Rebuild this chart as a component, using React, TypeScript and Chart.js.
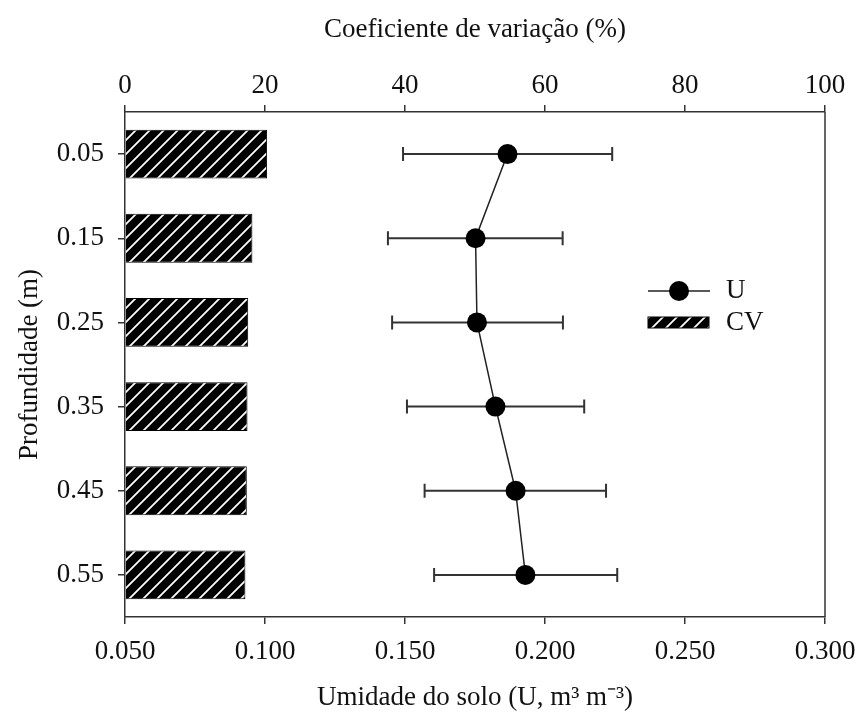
import React, { useEffect, useRef } from 'react';
import { Chart, registerables } from 'chart.js';

Chart.register(...registerables);

// ---- Data ----
const depthLabels = ['0.05', '0.15', '0.25', '0.35', '0.45', '0.55'];
const cvValues = [20.3, 18.2, 17.6, 17.5, 17.4, 17.2];
const uValues = [0.1866, 0.1752, 0.1757, 0.1823, 0.1895, 0.193];
const uLower = [0.1493, 0.1439, 0.1454, 0.1507, 0.157, 0.1604];
const uUpper = [0.224, 0.2063, 0.2064, 0.214, 0.2218, 0.2258];
const uTicks = [0.05, 0.1, 0.15, 0.2, 0.25, 0.3];
const cvTicks = [0, 20, 40, 60, 80, 100];

const FONT_FAMILY = '"Liberation Serif", "Times New Roman", serif';
const FONT_SIZE = 27;
const AXIS_COLOR = '#333';
const TEXT_COLOR = '#111';

function makeHatch(): CanvasPattern | string {
  const s = 14;
  const c = document.createElement('canvas');
  c.width = s;
  c.height = s;
  const g = c.getContext('2d');
  if (!g) return '#000';
  g.fillStyle = '#000';
  g.fillRect(0, 0, s, s);
  g.strokeStyle = '#fff';
  g.lineWidth = 1.8;
  g.beginPath();
  g.moveTo(-3, 3);
  g.lineTo(3, -3);
  g.moveTo(0, s);
  g.lineTo(s, 0);
  g.moveTo(s - 3, s + 3);
  g.lineTo(s + 3, s - 3);
  g.stroke();
  return g.createPattern(c, 'repeat') || '#000';
}

export default function App() {
  const canvasRef = useRef<HTMLCanvasElement | null>(null);

  useEffect(() => {
    document.body.style.margin = '0';
    const canvas = canvasRef.current;
    if (!canvas) return;
    const hatch = makeHatch();

    const font = { family: FONT_FAMILY, size: FONT_SIZE };

    const errorBars = {
      id: 'errorBars',
      beforeDatasetsDraw(chart: any) {
        const { ctx } = chart;
        const xs = chart.scales.x;
        const ys = chart.scales.y;
        ctx.save();
        ctx.strokeStyle = '#333';
        ctx.lineWidth = 2;
        for (let i = 0; i < uValues.length; i++) {
          const y = ys.getPixelForValue(i);
          const x1 = xs.getPixelForValue(uLower[i]);
          const x2 = xs.getPixelForValue(uUpper[i]);
          ctx.beginPath();
          ctx.moveTo(x1, y);
          ctx.lineTo(x2, y);
          ctx.moveTo(x1, y - 7);
          ctx.lineTo(x1, y + 7);
          ctx.moveTo(x2, y - 7);
          ctx.lineTo(x2, y + 7);
          ctx.stroke();
        }
        ctx.restore();
      },
    };

    const frameAndLegend = {
      id: 'frameAndLegend',
      afterDraw(chart: any) {
        const { ctx, chartArea } = chart;
        ctx.save();
        // right border
        ctx.strokeStyle = AXIS_COLOR;
        ctx.lineWidth = 1.5;
        ctx.beginPath();
        ctx.moveTo(chartArea.right, chartArea.top);
        ctx.lineTo(chartArea.right, chartArea.bottom);
        ctx.stroke();

        // legend: U
        const ly = 291;
        ctx.strokeStyle = '#222';
        ctx.lineWidth = 1.5;
        ctx.beginPath();
        ctx.moveTo(648, ly);
        ctx.lineTo(710, ly);
        ctx.stroke();
        ctx.fillStyle = '#000';
        ctx.beginPath();
        ctx.arc(679, ly, 10, 0, Math.PI * 2);
        ctx.fill();

        // legend: CV
        ctx.fillStyle = hatch as any;
        ctx.fillRect(648, 317, 61, 11);
        ctx.strokeStyle = '#000';
        ctx.lineWidth = 1;
        ctx.strokeRect(648, 317, 61, 11);

        ctx.fillStyle = TEXT_COLOR;
        ctx.font = `${FONT_SIZE}px ${FONT_FAMILY}`;
        ctx.textAlign = 'left';
        ctx.textBaseline = 'middle';
        ctx.fillText('U', 726, ly);
        ctx.fillText('CV', 726, 323);
        ctx.restore();
      },
    };

    const chart = new Chart(canvas, {
      type: 'bar',
      data: {
        labels: depthLabels,
        datasets: [
          {
            type: 'bar',
            label: 'CV',
            data: cvValues,
            xAxisID: 'x2',
            yAxisID: 'y',
            backgroundColor: hatch as any,
            borderColor: '#000',
            borderWidth: 1,
            barPercentage: 0.58,
            categoryPercentage: 1,
            grouped: false,
            order: 1,
          } as any,
          {
            type: 'line',
            label: 'U',
            data: uValues,
            indexAxis: 'y',
            xAxisID: 'x',
            yAxisID: 'y',
            borderColor: '#222',
            borderWidth: 1.5,
            pointRadius: 10,
            pointBackgroundColor: '#000',
            pointBorderColor: '#000',
            pointBorderWidth: 0,
            fill: false,
            tension: 0,
            order: 0,
          } as any,
        ],
      },
      options: {
        indexAxis: 'y',
        responsive: false,
        animation: false,
        layout: { padding: { left: 0, right: 33, top: 0, bottom: 0 } },
        plugins: {
          legend: { display: false },
          tooltip: { enabled: false },
          title: { display: false },
        },
        scales: {
          x: {
            type: 'linear',
            position: 'bottom',
            min: 0.05,
            max: 0.3,
            afterBuildTicks: (s: any) => {
              s.ticks = uTicks.map((v) => ({ value: v }));
            },
            afterFit: (s: any) => {
              s.height = 101;
              s.paddingLeft = 0;
              s.paddingRight = 0;
            },
            ticks: {
              callback: (v: any) => Number(v).toFixed(3),
              font,
              color: TEXT_COLOR,
              padding: 12,
              maxRotation: 0,
            },
            grid: {
              drawOnChartArea: false,
              drawTicks: true,
              tickLength: 7,
              color: AXIS_COLOR,
              lineWidth: 1.5,
            },
            border: { display: true, color: AXIS_COLOR, width: 1.5 },
            title: {
              display: true,
              text: 'Umidade do solo (U, m³ m⁻³)',
              font,
              color: TEXT_COLOR,
              padding: { top: 0, bottom: 4 },
            },
          },
          x2: {
            type: 'linear',
            position: 'top',
            min: 0,
            max: 100,
            afterBuildTicks: (s: any) => {
              s.ticks = cvTicks.map((v) => ({ value: v }));
            },
            afterFit: (s: any) => {
              s.height = 112;
              s.paddingLeft = 0;
              s.paddingRight = 0;
            },
            ticks: {
              callback: (v: any) => String(v),
              font,
              color: TEXT_COLOR,
              padding: 3,
              maxRotation: 0,
            },
            grid: {
              drawOnChartArea: false,
              drawTicks: true,
              tickLength: 7,
              color: AXIS_COLOR,
              lineWidth: 1.5,
            },
            border: { display: true, color: AXIS_COLOR, width: 1.5 },
            title: {
              display: true,
              text: 'Coeficiente de variação (%)',
              font,
              color: TEXT_COLOR,
              padding: { top: 14, bottom: 0 },
            },
          },
          y: {
            type: 'category',
            position: 'left',
            offset: true,
            afterFit: (s: any) => {
              s.width = 125;
              s.paddingTop = 0;
              s.paddingBottom = 0;
            },
            ticks: {
              font,
              color: TEXT_COLOR,
              padding: 14,
            },
            grid: {
              offset: false,
              drawOnChartArea: false,
              drawTicks: true,
              tickLength: 7,
              color: AXIS_COLOR,
              lineWidth: 1.5,
            },
            border: { display: true, color: AXIS_COLOR, width: 1.5 },
            title: {
              display: true,
              text: 'Profundidade (m)',
              font,
              color: TEXT_COLOR,
              padding: { top: 14, bottom: 0 },
            },
          },
        },
      } as any,
      plugins: [errorBars, frameAndLegend],
    });

    return () => {
      chart.destroy();
    };
  }, []);

  return (
    <div style={{ width: 858, height: 718 }}>
      <canvas ref={canvasRef} width={858} height={718} style={{ display: 'block', width: 858, height: 718 }} />
    </div>
  );
}
